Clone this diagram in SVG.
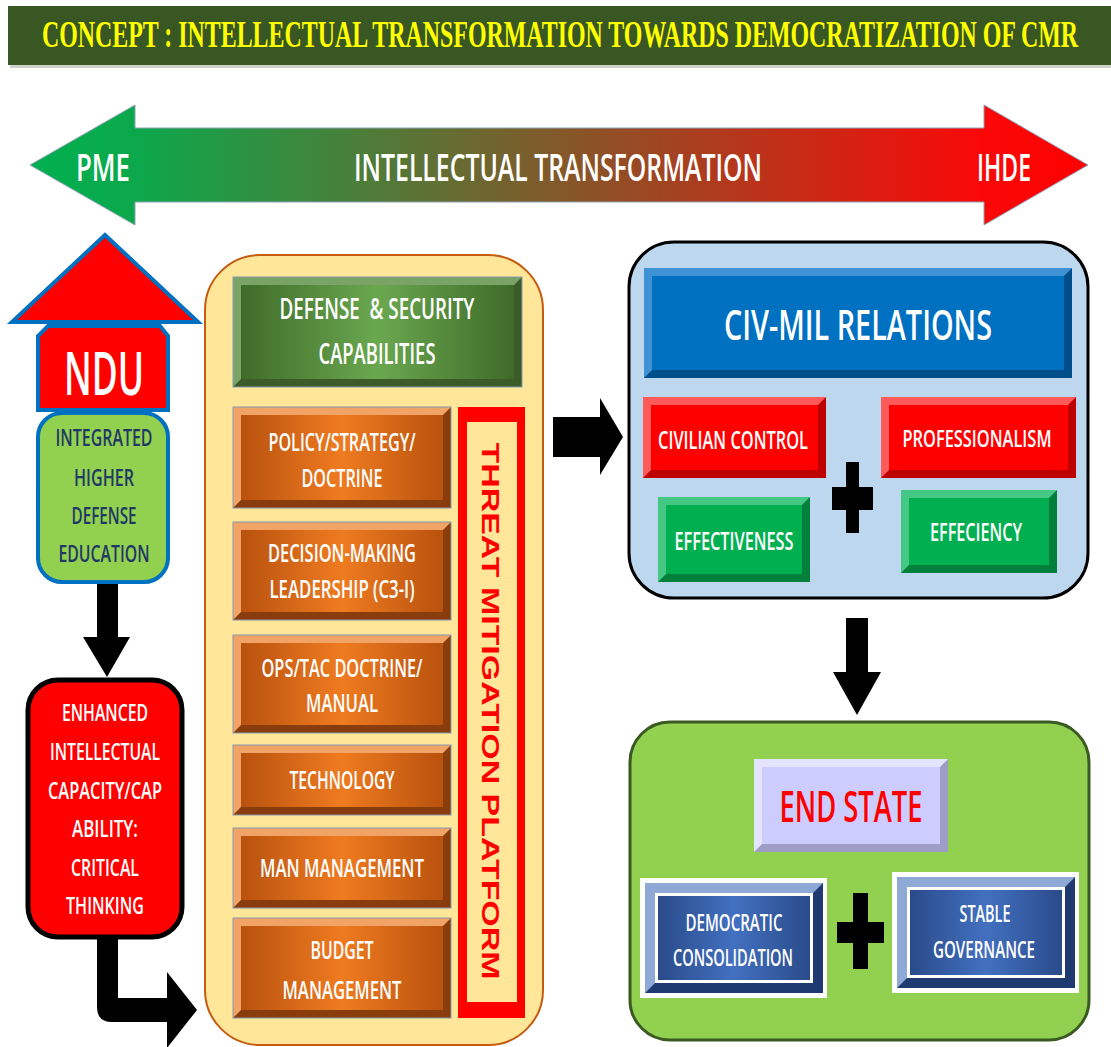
<svg xmlns="http://www.w3.org/2000/svg" width="1111" height="1047" viewBox="0 0 1111 1047">
<defs>
<linearGradient id="bannerGrad" gradientUnits="userSpaceOnUse" x1="30" y1="0" x2="1088" y2="0">
<stop offset="0" stop-color="#00b050"/>
<stop offset="0.1" stop-color="#0ca84b"/>
<stop offset="0.9" stop-color="#fa0808"/>
<stop offset="1" stop-color="#ff0000"/>
</linearGradient>
<linearGradient id="orangeGrad" x1="0" y1="0" x2="1" y2="0">
<stop offset="0" stop-color="#b9520e"/>
<stop offset="0.5" stop-color="#ef7b20"/>
<stop offset="1" stop-color="#b9520e"/>
</linearGradient>
<linearGradient id="greenHdrGrad" x1="0" y1="0" x2="1" y2="0">
<stop offset="0" stop-color="#3f6b2a"/>
<stop offset="0.5" stop-color="#6aa84f"/>
<stop offset="1" stop-color="#3f6b2a"/>
</linearGradient>
<linearGradient id="navyGrad" x1="0" y1="0" x2="1" y2="0">
<stop offset="0" stop-color="#2a4b8a"/>
<stop offset="0.5" stop-color="#4270c0"/>
<stop offset="1" stop-color="#2a4b8a"/>
</linearGradient>
</defs>
<style>
.lbl{font-family:"Open Sans","Liberation Sans","DejaVu Sans",sans-serif;font-weight:600;fill:#ffffff;text-anchor:middle;}
.navy{fill:#203864;}
.ttl{font-family:"Liberation Serif","DejaVu Serif",serif;font-weight:bold;fill:#ffff00;text-anchor:middle;}
.threat{font-family:"Liberation Sans","Arial",sans-serif;font-weight:bold;fill:#ff0000;text-anchor:middle;}
.arrow{fill:#000000;}
.obox-dark{fill:#8a3d0c;}
.obox-light{fill:#f2a467;}
.obox-in{fill:url(#orangeGrad);}
.obox-line{fill:none;stroke:#8497b0;stroke-width:1;}
</style>

<g id="title">
<rect x="10" y="9" width="1103" height="59" fill="#9aa39a" opacity="0.5"/>
<rect x="8" y="6" width="1103" height="59" fill="#385723"/>
<text class="ttl" x="560" y="47" font-size="38" textLength="1036" lengthAdjust="spacingAndGlyphs">CONCEPT : INTELLECTUAL TRANSFORMATION  TOWARDS DEMOCRATIZATION OF CMR</text>
</g>

<g id="banner">
<polygon points="30,165 135,105 135,128 984,128 984,105 1088,165 984,225 984,202 135,202 135,225" fill="url(#bannerGrad)" stroke="#8ea2b8" stroke-width="1"/>
<text class="lbl" x="103" y="181" font-size="38" textLength="54" lengthAdjust="spacingAndGlyphs">PME</text>
<text class="lbl" x="558" y="181" font-size="38" textLength="408" lengthAdjust="spacingAndGlyphs">INTELLECTUAL TRANSFORMATION</text>
<text class="lbl" x="1004" y="181" font-size="38" textLength="54" lengthAdjust="spacingAndGlyphs">IHDE</text>
</g>

<g id="ndu">
<polygon points="105,235 198,322 12,322" fill="#ff0000" stroke="#0070c0" stroke-width="4" stroke-linejoin="miter"/>
<polygon points="48,326 160,326 168,336 168,410 38,410 38,336" fill="#ff0000" stroke="#0070c0" stroke-width="4"/>
<text class="lbl" x="104" y="395" font-size="60" textLength="80" lengthAdjust="spacingAndGlyphs">NDU</text>
</g>

<g id="ihde-box">
<rect x="38" y="413" width="130" height="169" rx="24" fill="#92d050" stroke="#0070c0" stroke-width="4"/>
<text class="lbl navy" x="104" y="446" font-size="24" textLength="97" lengthAdjust="spacingAndGlyphs">INTEGRATED</text>
<text class="lbl navy" x="104" y="486" font-size="24" textLength="60" lengthAdjust="spacingAndGlyphs">HIGHER</text>
<text class="lbl navy" x="104" y="524" font-size="24" textLength="65" lengthAdjust="spacingAndGlyphs">DEFENSE</text>
<text class="lbl navy" x="104" y="562" font-size="24" textLength="91" lengthAdjust="spacingAndGlyphs">EDUCATION</text>
</g>

<g id="enhanced">
<rect x="28" y="680" width="154" height="257" rx="30" fill="#ff0000" stroke="#000000" stroke-width="5"/>
<text class="lbl" x="105" y="721" font-size="24" textLength="86" lengthAdjust="spacingAndGlyphs">ENHANCED</text>
<text class="lbl" x="105" y="760" font-size="24" textLength="110" lengthAdjust="spacingAndGlyphs">INTELLECTUAL</text>
<text class="lbl" x="105" y="799" font-size="24" textLength="114" lengthAdjust="spacingAndGlyphs">CAPACITY/CAP</text>
<text class="lbl" x="105" y="837" font-size="24" textLength="66" lengthAdjust="spacingAndGlyphs">ABILITY:</text>
<text class="lbl" x="105" y="876" font-size="24" textLength="68" lengthAdjust="spacingAndGlyphs">CRITICAL</text>
<text class="lbl" x="105" y="914" font-size="24" textLength="78" lengthAdjust="spacingAndGlyphs">THINKING</text>
</g>

<g id="capabilities">
<rect x="205" y="255" width="338" height="790" rx="55" fill="#ffe699" stroke="#c55a11" stroke-width="2"/>
<g id="defense-header">
<rect x="233" y="277" width="289" height="110" fill="#3b5c29"/>
<polygon points="233,277 522,277 514,285 241,285 241,379 233,387" fill="#7aa465"/>
<rect x="241" y="285" width="273" height="94" fill="url(#greenHdrGrad)"/>
<rect x="233" y="277" width="289" height="110" class="obox-line"/>
<text class="lbl" x="377" y="319" font-size="28" textLength="195" lengthAdjust="spacingAndGlyphs" style="white-space:pre">DEFENSE  &amp; SECURITY</text>
<text class="lbl" x="377" y="364" font-size="28" textLength="117" lengthAdjust="spacingAndGlyphs">CAPABILITIES</text>
</g>
<g id="policy">
<rect class="obox-dark" x="233" y="407" width="218" height="101"/>
<polygon class="obox-light" points="233,407 451,407 443,415 241,415 241,500 233,508"/>
<rect class="obox-in" x="241" y="415" width="202" height="85"/>
<rect class="obox-line" x="233" y="407" width="218" height="101"/>
<text class="lbl" x="342" y="451" font-size="26" textLength="147" lengthAdjust="spacingAndGlyphs">POLICY/STRATEGY/</text>
<text class="lbl" x="342" y="487" font-size="26" textLength="81" lengthAdjust="spacingAndGlyphs">DOCTRINE</text>
</g>
<g id="decision">
<rect class="obox-dark" x="233" y="522" width="218" height="98"/>
<polygon class="obox-light" points="233,522 451,522 443,530 241,530 241,612 233,620"/>
<rect class="obox-in" x="241" y="530" width="202" height="82"/>
<rect class="obox-line" x="233" y="522" width="218" height="98"/>
<text class="lbl" x="342" y="562" font-size="26" textLength="148" lengthAdjust="spacingAndGlyphs">DECISION-MAKING</text>
<text class="lbl" x="342" y="598" font-size="26" textLength="145" lengthAdjust="spacingAndGlyphs">LEADERSHIP (C3-I)</text>
</g>
<g id="ops">
<rect class="obox-dark" x="233" y="635" width="218" height="98"/>
<polygon class="obox-light" points="233,635 451,635 443,643 241,643 241,725 233,733"/>
<rect class="obox-in" x="241" y="643" width="202" height="82"/>
<rect class="obox-line" x="233" y="635" width="218" height="98"/>
<text class="lbl" x="342" y="677" font-size="26" textLength="161" lengthAdjust="spacingAndGlyphs">OPS/TAC DOCTRINE/</text>
<text class="lbl" x="342" y="712" font-size="26" textLength="72" lengthAdjust="spacingAndGlyphs">MANUAL</text>
</g>
<g id="technology">
<rect class="obox-dark" x="233" y="745" width="218" height="70"/>
<polygon class="obox-light" points="233,745 451,745 443,753 241,753 241,807 233,815"/>
<rect class="obox-in" x="241" y="753" width="202" height="54"/>
<rect class="obox-line" x="233" y="745" width="218" height="70"/>
<text class="lbl" x="342" y="789" font-size="26" textLength="105" lengthAdjust="spacingAndGlyphs">TECHNOLOGY</text>
</g>
<g id="man-management">
<rect class="obox-dark" x="233" y="828" width="218" height="80"/>
<polygon class="obox-light" points="233,828 451,828 443,836 241,836 241,900 233,908"/>
<rect class="obox-in" x="241" y="836" width="202" height="64"/>
<rect class="obox-line" x="233" y="828" width="218" height="80"/>
<text class="lbl" x="342" y="877" font-size="26" textLength="164" lengthAdjust="spacingAndGlyphs">MAN MANAGEMENT</text>
</g>
<g id="budget">
<rect class="obox-dark" x="233" y="918" width="218" height="100"/>
<polygon class="obox-light" points="233,918 451,918 443,926 241,926 241,1010 233,1018"/>
<rect class="obox-in" x="241" y="926" width="202" height="84"/>
<rect class="obox-line" x="233" y="918" width="218" height="100"/>
<text class="lbl" x="342" y="959" font-size="26" textLength="63" lengthAdjust="spacingAndGlyphs">BUDGET</text>
<text class="lbl" x="342" y="999" font-size="26" textLength="119" lengthAdjust="spacingAndGlyphs">MANAGEMENT</text>
</g>
<g id="threat">
<rect x="458" y="407" width="67" height="611" fill="#ff0000"/>
<rect x="467" y="422" width="50" height="580" fill="#ffe699"/>
<text class="threat" transform="translate(482,711) rotate(90)" x="0" y="0" font-size="23" textLength="537" lengthAdjust="spacingAndGlyphs">THREAT MITIGATION PLATFORM</text>
</g>
</g>

<g id="civmil">
<rect x="629" y="242" width="459" height="356" rx="45" fill="#bdd7ee" stroke="#000000" stroke-width="3"/>
<g id="civmil-header">
<rect x="644" y="268" width="428" height="110" fill="#004f8a"/>
<polygon points="644,268 1072,268 1064,276 652,276 652,370 644,378" fill="#3f93d4"/>
<rect x="652" y="276" width="412" height="94" fill="#0070c0"/>
<text class="lbl" x="858" y="340" font-size="42" textLength="268" lengthAdjust="spacingAndGlyphs">CIV-MIL RELATIONS</text>
</g>
<g id="civilian-control">
<rect x="643" y="397" width="183" height="81" fill="#bf0000"/>
<polygon points="643,397 826,397 818,405 651,405 651,470 643,478" fill="#ff5a5a"/>
<rect x="651" y="405" width="167" height="65" fill="#ff0000"/>
<text class="lbl" x="733" y="449" font-size="25" textLength="150" lengthAdjust="spacingAndGlyphs">CIVILIAN CONTROL</text>
</g>
<g id="professionalism">
<rect x="881" y="397" width="195" height="81" fill="#bf0000"/>
<polygon points="881,397 1076,397 1068,405 889,405 889,470 881,478" fill="#ff5a5a"/>
<rect x="889" y="405" width="179" height="65" fill="#ff0000"/>
<text class="lbl" x="977" y="447" font-size="24" textLength="149" lengthAdjust="spacingAndGlyphs">PROFESSIONALISM</text>
</g>
<g id="effectiveness">
<rect x="658" y="497" width="152" height="85" fill="#00803a"/>
<polygon points="658,497 810,497 802,505 666,505 666,574 658,582" fill="#45c884"/>
<rect x="666" y="505" width="136" height="69" fill="#00b050"/>
<text class="lbl" x="734" y="550" font-size="25" textLength="119" lengthAdjust="spacingAndGlyphs">EFFECTIVENESS</text>
</g>
<g id="effeciency">
<rect x="901" y="490" width="156" height="83" fill="#00803a"/>
<polygon points="901,490 1057,490 1049,498 909,498 909,565 901,573" fill="#45c884"/>
<rect x="909" y="498" width="140" height="67" fill="#00b050"/>
<text class="lbl" x="976" y="541" font-size="25" textLength="92" lengthAdjust="spacingAndGlyphs">EFFECIENCY</text>
</g>
<g id="plus-1">
<rect x="846" y="462" width="13" height="71" fill="#000000"/>
<rect x="832" y="487" width="41" height="23" fill="#000000"/>
</g>
</g>

<g id="endstate">
<rect x="630" y="722" width="459" height="318" rx="40" fill="#92d050" stroke="#3a5a22" stroke-width="3"/>
<g id="endstate-title">
<rect x="754" y="759" width="194" height="93" fill="#9d9dc8"/>
<polygon points="754,759 948,759 940,767 762,767 762,844 754,852" fill="#e4e4ff"/>
<rect x="762" y="767" width="178" height="77" fill="#ccccff"/>
<text class="lbl" x="851" y="822" font-size="44" textLength="143" lengthAdjust="spacingAndGlyphs" style="fill:#ff0000">END STATE</text>
</g>
<g id="democratic">
<rect x="640" y="878" width="187" height="120" fill="#ffffff"/>
<rect x="645" y="883" width="178" height="110" fill="#1f3a70"/>
<polygon points="645,883 823,883 813,893 655,893 655,983 645,993" fill="#8fa9d6"/>
<rect x="655" y="893" width="158" height="90" fill="#ffffff"/>
<rect x="658" y="896" width="152" height="84" fill="url(#navyGrad)"/>
<text class="lbl" x="734" y="931" font-size="23" textLength="97" lengthAdjust="spacingAndGlyphs">DEMOCRATIC</text>
<text class="lbl" x="733" y="966" font-size="23" textLength="120" lengthAdjust="spacingAndGlyphs">CONSOLIDATION</text>
</g>
<g id="stable">
<rect x="892" y="872" width="187" height="121" fill="#ffffff"/>
<rect x="897" y="877" width="178" height="111" fill="#1f3a70"/>
<polygon points="897,877 1075,877 1065,887 907,887 907,978 897,988" fill="#8fa9d6"/>
<rect x="907" y="887" width="158" height="91" fill="#ffffff"/>
<rect x="910" y="890" width="152" height="85" fill="url(#navyGrad)"/>
<text class="lbl" x="985" y="922" font-size="23" textLength="51" lengthAdjust="spacingAndGlyphs">STABLE</text>
<text class="lbl" x="984" y="958" font-size="23" textLength="102" lengthAdjust="spacingAndGlyphs">GOVERNANCE</text>
</g>
<g id="plus-2">
<rect x="853" y="893" width="15" height="76" fill="#000000"/>
<rect x="837" y="922" width="47" height="21" fill="#000000"/>
</g>
</g>

<g id="connectors">
<polygon class="arrow" points="97,584 118,584 118,637 130,637 107,677 83,637 97,637"/>
<path class="arrow" d="M97,937 L118,937 L118,998 L167,998 L167,972 L197,1010 L167,1048 L167,1022 L112,1022 Q97,1022 97,1007 Z"/>
<polygon class="arrow" points="553,417 600,417 600,398 623,437 600,475 600,457 553,457"/>
<polygon class="arrow" points="846,618 868,618 868,672 881,672 857,715 833,672 846,672"/>
</g>
</svg>
